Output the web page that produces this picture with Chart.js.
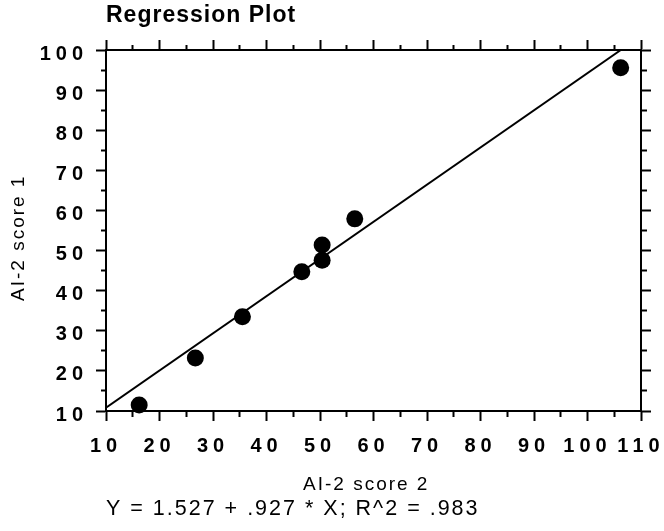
<!DOCTYPE html>
<html>
<head>
<meta charset="utf-8">
<title>Regression Plot</title>
<style>
  html, body { margin: 0; padding: 0; background: #fff; }
  canvas { display: block; }
</style>
<script src="https://cdn.jsdelivr.net/npm/chart.js@4/dist/chart.umd.min.js"></script>
</head>
<body>
<canvas id="plot" width="664" height="531"></canvas>
<script>
// AI-2 scores: score 2 on the x axis, score 1 on the y axis
const score2 = [16.2, 26.7, 35.5, 46.6, 50.4, 50.4, 56.5, 106.2];
const score1 = [11.5, 23.2, 33.5, 44.7, 47.6, 51.4, 57.9, 95.6];

// least-squares fit of score 1 on score 2
const intercept = 1.527;
const slope = 0.927;
const rSquared = 0.983;

// axis ranges and tick spacing
const xRange = [10, 110];
const yRange = [10, 100];
const minorStep = 5;
const majorStep = 10;

const bare = v => String(v).replace(/^0\./, '.');
const equationText = `Y = ${bare(intercept)} + ${bare(slope)} * X; R^2 = ${bare(rSquared)}`;

// fitted line from the left edge until it leaves through the top of the frame
const fitEnds = [xRange[0], Math.min(xRange[1], (yRange[1] - intercept) / slope)];
const fitLine = fitEnds.map(x => ({ x, y: intercept + slope * x }));
const points = score2.map((x, i) => ({ x, y: score1[i] }));

Chart.defaults.font.family = "'Liberation Sans', Arial, Helvetica, sans-serif";
Chart.defaults.color = '#000';

const isMajor = ctx => ctx.tick && Math.abs(ctx.tick.value % majorStep) < 1e-9;
const majorLabel = v => (Math.abs(v % majorStep) < 1e-9 ? String(v) : '');

// outward tick marks on every side; minor ticks are half length, kept against the frame
function frameTicks(drawnTowardFrame) {
  return {
    drawOnChartArea: false,
    drawTicks: true,
    tickLength: 10,
    tickWidth: 2,
    tickColor: '#000',
    tickBorderDash: ctx => (isMajor(ctx) ? [] : (drawnTowardFrame ? [5, 5] : [5, 20])),
    tickBorderDashOffset: ctx => (isMajor(ctx) ? 0 : (drawnTowardFrame ? 5 : 0))
  };
}
const frameLine = { display: true, color: '#000', width: 2 };
const tickFont = { size: 20, weight: 'bold' };

// run a draw method with its own letter spacing
function spaced(obj, method, spacing) {
  if (!obj || obj['_spaced_' + method]) return;
  const original = obj[method];
  obj[method] = function (...args) {
    const c = this.ctx;
    c.save();
    c.letterSpacing = spacing;
    original.apply(this, args);
    c.restore();
  };
  obj['_spaced_' + method] = true;
}

// wider letter spacing, as in the printed figure
const letterSpacing = {
  id: 'letterSpacing',
  beforeDraw(chart) {
    chart.ctx.letterSpacing = '2px';
    spaced(chart.titleBlock, 'draw', '1px');
    for (const scale of Object.values(chart.scales)) {
      spaced(scale, 'drawLabels', '5px');
    }
  }
};

new Chart(document.getElementById('plot'), {
  type: 'scatter',
  data: {
    datasets: [
      {
        label: 'AI-2 score 1',
        data: points,
        pointRadius: 8.5,
        pointHoverRadius: 8.5,
        pointBackgroundColor: '#000',
        pointBorderColor: '#000',
        pointBorderWidth: 0,
        clip: false
      },
      {
        label: 'Fit',
        data: fitLine,
        showLine: true,
        borderColor: '#000',
        borderWidth: 2,
        pointRadius: 0,
        fill: false,
        tension: 0
      }
    ]
  },
  options: {
    responsive: false,
    animation: false,
    events: [],
    layout: { padding: { left: 0, right: 13, top: 0, bottom: 0 } },
    plugins: {
      legend: { display: false },
      tooltip: { enabled: false },
      title: {
        display: true,
        text: 'Regression Plot',
        align: 'start',
        fullSize: false,
        font: { size: 23, weight: 'bold' },
        padding: { top: 1.4, bottom: 11 }
      },
      subtitle: {
        display: true,
        text: equationText,
        position: 'bottom',
        align: 'start',
        fullSize: false,
        font: { size: 21.5, weight: 'normal' },
        color: '#000',
        padding: { top: 0, bottom: 9.1 }
      }
    },
    scales: {
      x: {
        type: 'linear',
        position: 'bottom',
        min: xRange[0],
        max: xRange[1],
        ticks: {
          stepSize: minorStep,
          autoSkip: false,
          maxRotation: 0,
          minRotation: 0,
          padding: 13,
          font: tickFont,
          callback: majorLabel
        },
        grid: frameTicks(false),
        border: frameLine,
        title: {
          display: true,
          text: 'AI-2 score 2  ',
          font: { size: 19 },
          padding: { top: 15, bottom: 0.2 }
        },
        afterFit(scale) {
          scale.paddingLeft = 0;
          scale.paddingRight = 0;
          scale.height = 85.1;
        }
      },
      xTop: {
        type: 'linear',
        position: 'top',
        min: xRange[0],
        max: xRange[1],
        ticks: { stepSize: minorStep, autoSkip: false, display: false },
        grid: frameTicks(true),
        border: frameLine,
        afterFit(scale) { scale.height = 10; }
      },
      y: {
        type: 'linear',
        position: 'left',
        min: yRange[0],
        max: yRange[1],
        ticks: {
          stepSize: minorStep,
          autoSkip: false,
          padding: 8,
          labelOffset: 4,
          font: tickFont,
          callback: majorLabel
        },
        grid: frameTicks(true),
        border: frameLine,
        title: {
          display: true,
          text: 'AI-2 score 1  ',
          font: { size: 19 },
          padding: { top: 7.6, bottom: 0 }
        },
        afterFit(scale) { scale.width = 106; }
      },
      yRight: {
        type: 'linear',
        position: 'right',
        min: yRange[0],
        max: yRange[1],
        ticks: { stepSize: minorStep, autoSkip: false, display: false },
        grid: frameTicks(false),
        border: frameLine,
        afterFit(scale) { scale.width = 10; }
      }
    }
  },
  plugins: [letterSpacing]
});
</script>
</body>
</html>
